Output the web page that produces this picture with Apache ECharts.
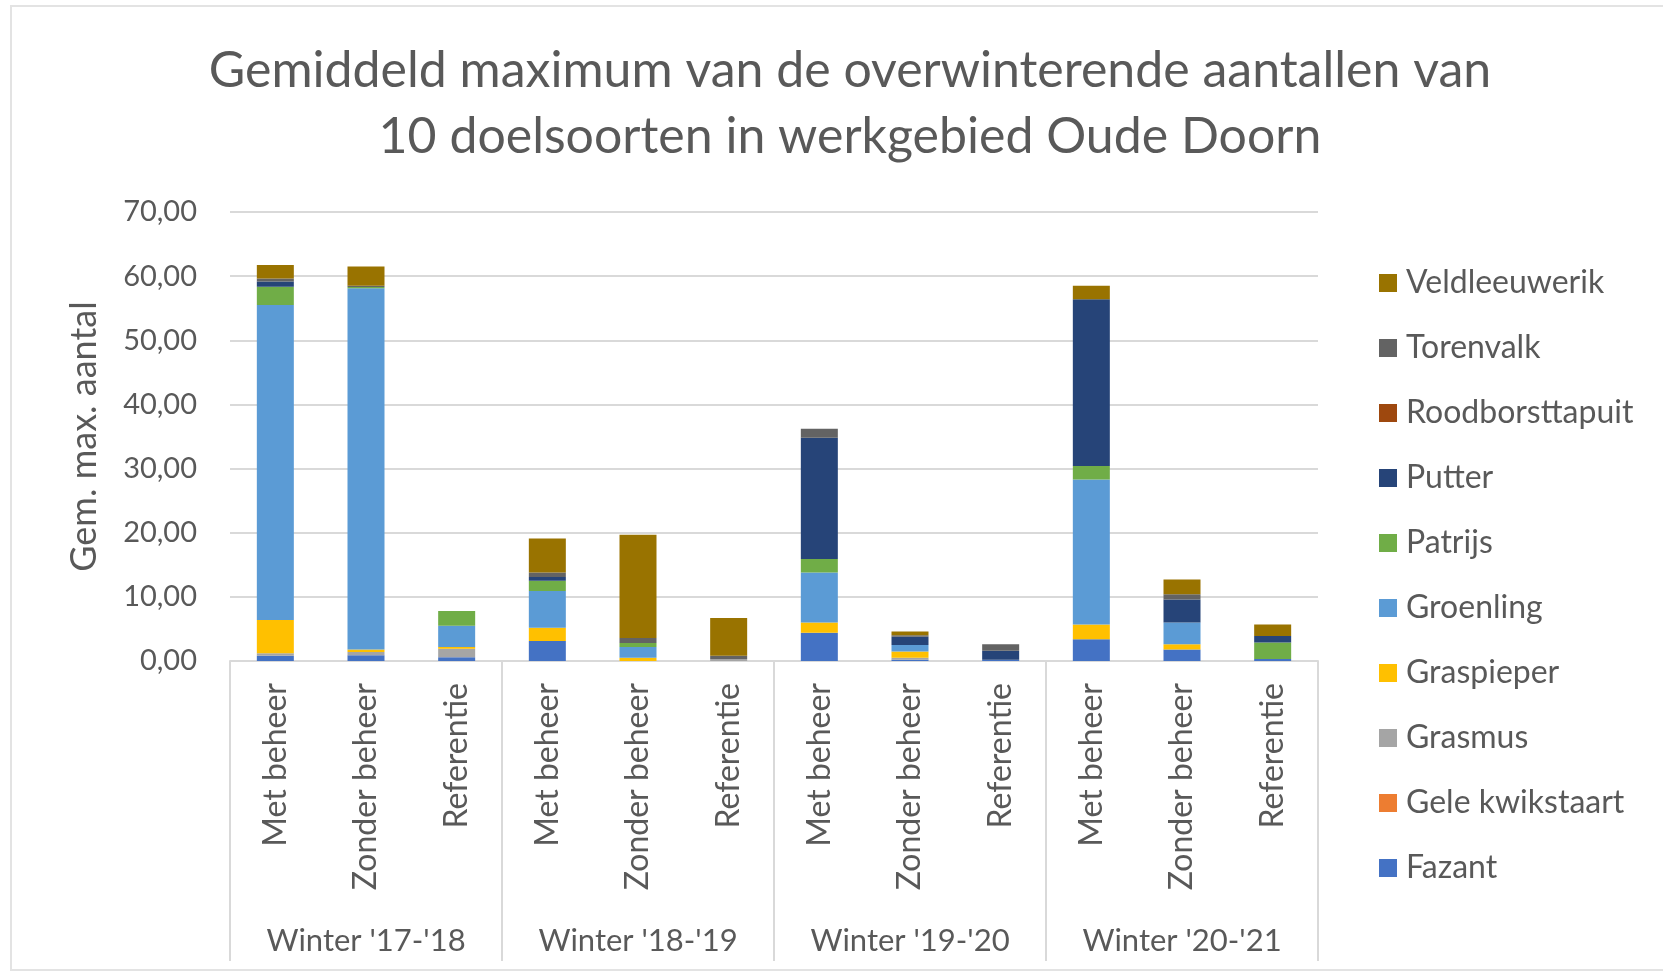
<!DOCTYPE html>
<html>
<head>
<meta charset="utf-8">
<script src="https://cdn.jsdelivr.net/npm/echarts@6/dist/echarts.min.js"></script>
<style>
  html, body { margin: 0; padding: 0; background: #fff; }
  .frame {
    position: absolute; left: 10px; top: 5px; width: 1660px; height: 966px;
    border: 2px solid #e3e3e3; box-sizing: border-box;
  }
  #chart { position: absolute; left: 0; top: 0; width: 1663px; height: 978px; }
</style>
</head>
<body>
<div class="frame"></div>
<div id="chart"></div>
<script>
const FONT = "Lato, 'Open Sans', sans-serif";

const subCategories = [
  "Met beheer", "Zonder beheer", "Referentie",
  "Met beheer", "Zonder beheer", "Referentie",
  "Met beheer", "Zonder beheer", "Referentie",
  "Met beheer", "Zonder beheer", "Referentie"
];
const winters = ["Winter '17-'18", "Winter '18-'19", "Winter '19-'20", "Winter '20-'21"];
const yTicks = [0, 10, 20, 30, 40, 50, 60, 70];

// stacked from bottom to top
const fazant          = [0.8, 0.9, 0.6, 3.1, 0, 0, 4.4, 0.2, 0.2, 3.4, 1.8, 0.3];
const geleKwikstaart  = [0, 0, 0, 0, 0, 0, 0, 0, 0, 0, 0, 0];
const grasmus         = [0.4, 0.5, 1.3, 0, 0, 0.3, 0, 0.3, 0, 0, 0, 0];
const graspieper      = [5.2, 0.4, 0.3, 2.1, 0.5, 0, 1.6, 1.0, 0, 2.3, 0.8, 0];
const groenling       = [49.1, 56.3, 3.3, 5.7, 1.7, 0, 7.8, 1.0, 0, 22.6, 3.4, 0];
const patrijs         = [2.85, 0.2, 2.3, 1.6, 0.6, 0, 2.1, 0, 0, 2.1, 0, 2.6];
const putter          = [0.8, 0, 0, 0.6, 0, 0, 18.9, 1.3, 1.4, 26.0, 3.6, 1.0];
const roodborsttapuit = [0, 0, 0, 0, 0, 0, 0, 0, 0, 0, 0, 0];
const torenvalk       = [0.5, 0.2, 0, 0.7, 0.8, 0.5, 1.4, 0.2, 1.0, 0, 0.8, 0];
const veldleeuwerik   = [2.1, 3.0, 0, 5.3, 16.1, 5.9, 0, 0.6, 0, 2.1, 2.3, 1.8];

const soorten = [
  ["Fazant", fazant, "#4472C4"],
  ["Gele kwikstaart", geleKwikstaart, "#ED7D31"],
  ["Grasmus", grasmus, "#A5A5A5"],
  ["Graspieper", graspieper, "#FFC000"],
  ["Groenling", groenling, "#5B9BD5"],
  ["Patrijs", patrijs, "#70AD47"],
  ["Putter", putter, "#264478"],
  ["Roodborsttapuit", roodborsttapuit, "#9E480E"],
  ["Torenvalk", torenvalk, "#636363"],
  ["Veldleeuwerik", veldleeuwerik, "#997300"]
];

const myChart = echarts.init(document.getElementById("chart"));

const option = {
  animation: false,
  textStyle: { fontFamily: FONT, color: "#595959" },
  title: {
    text: "Gemiddeld maximum van de overwinterende aantallen van\n10 doelsoorten in werkgebied Oude Doorn",
    left: 845,
    top: 33,
    textAlign: "center",
    textStyle: {
      fontFamily: FONT,
      fontSize: 50,
      fontWeight: "normal",
      color: "#595959",
      lineHeight: 66
    }
  },
  legend: {
    orient: "vertical",
    left: 1379,
    top: 266,
    padding: 0,
    data: soorten.map((s) => s[0]).reverse(),
    icon: "rect",
    itemWidth: 18,
    itemHeight: 18,
    itemGap: 31,
    textStyle: {
      fontFamily: FONT,
      fontSize: 32,
      color: "#595959",
      lineHeight: 34,
      padding: [0, 0, 0, 4]
    }
  },
  grid: {
    left: 230,
    right: 345,
    top: 212,
    bottom: 317
  },
  xAxis: [
    {
      type: "category",
      data: subCategories,
      axisLine: { show: true, lineStyle: { color: "#d9d9d9", width: 2 } },
      axisTick: { show: false },
      axisLabel: {
        interval: 0,
        rotate: 90,
        margin: 22,
        fontFamily: FONT,
        fontSize: 32,
        color: "#595959"
      }
    },
    {
      type: "category",
      data: winters,
      position: "bottom",
      axisLine: { show: false },
      axisTick: {
        show: true,
        length: 300,
        lineStyle: { color: "#d9d9d9", width: 2 }
      },
      axisLabel: {
        interval: 0,
        margin: 264,
        fontFamily: FONT,
        fontSize: 31,
        color: "#595959"
      }
    }
  ],
  yAxis: {
    type: "value",
    min: yTicks[0],
    max: yTicks[yTicks.length - 1],
    interval: 10,
    name: "Gem. max. aantal",
    nameLocation: "middle",
    nameGap: 128,
    nameTextStyle: { fontFamily: FONT, fontSize: 36, color: "#595959" },
    axisLine: { show: false },
    axisTick: { show: false },
    splitLine: { lineStyle: { color: "#d9d9d9", width: 2 } },
    axisLabel: {
      margin: 33,
      fontFamily: FONT,
      fontSize: 29,
      color: "#595959",
      formatter: (v) => v.toFixed(2).replace(".", ",")
    }
  },
  series: soorten.map(([name, data, color]) => ({
    name: name,
    type: "bar",
    stack: "totaal",
    data: data,
    barWidth: 37,
    xAxisIndex: 0,
    itemStyle: { color: color }
  }))
};

myChart.setOption(option);
</script>
</body>
</html>
